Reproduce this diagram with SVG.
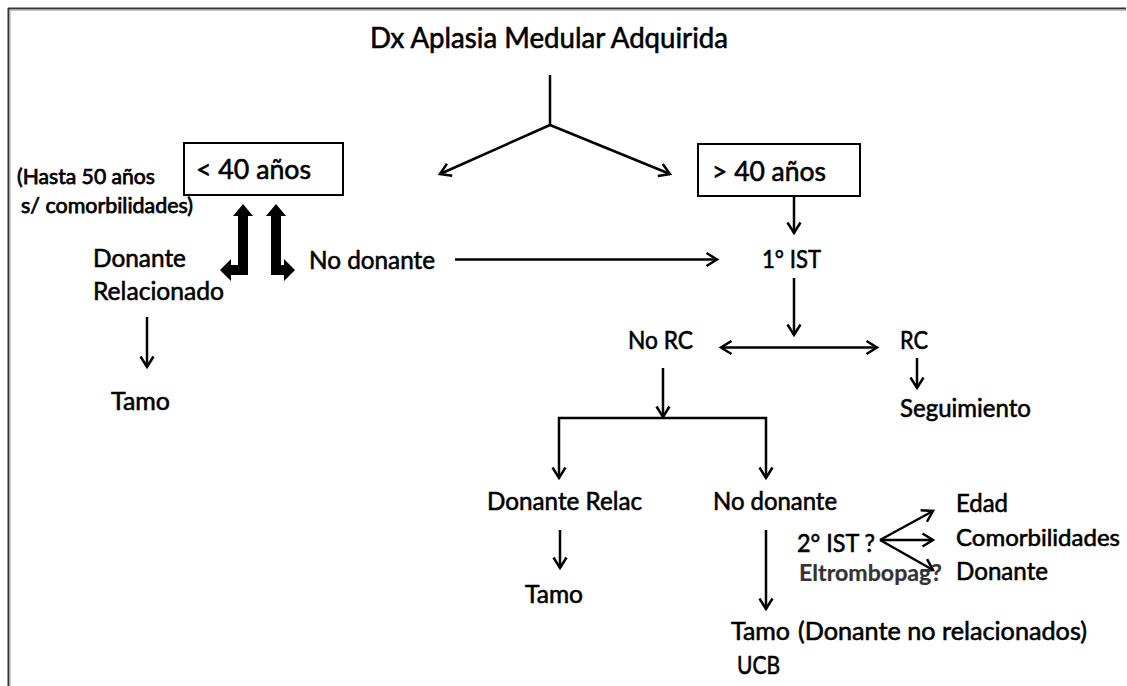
<svg xmlns="http://www.w3.org/2000/svg" width="1127" height="686" viewBox="0 0 1127 686">
  <style>
    text { font-family: Lato, "Open Sans", "Liberation Sans", sans-serif; fill: #000; stroke: #000; stroke-width: 0.6px; }
    .t { font-size: 25.5px; }
    .s { font-size: 23px; }
    .big { font-size: 27px; }
    .title { font-size: 29px; }
    .note { font-size: 21px; stroke-width: 0.75px; }
    .q { font-size: 22.5px; font-weight: bold; fill: #333; stroke: #333; stroke-width: 0.2px; }
    .ln { stroke: #000; stroke-width: 2.5; fill: none; }
    .box { stroke: #000; stroke-width: 2; fill: #fff; }
  </style>
  <defs>
    <marker id="ah" markerUnits="userSpaceOnUse" markerWidth="16" markerHeight="16" refX="12" refY="8" orient="auto">
      <path d="M1.5,1.5 L12,8 L1.5,14.5" fill="none" stroke="#000" stroke-width="2.5" stroke-linejoin="miter"/>
    </marker>
    <marker id="ahs" markerUnits="userSpaceOnUse" markerWidth="16" markerHeight="16" refX="12" refY="8" orient="auto-start-reverse">
      <path d="M1.5,1.5 L12,8 L1.5,14.5" fill="none" stroke="#000" stroke-width="2.5"/>
    </marker>
  </defs>

  <!-- page frame -->
  <g id="frame">
    <rect x="0" y="0" width="1127" height="686" fill="#fff"/>
    <line x1="8" y1="8.5" x2="1126" y2="8.5" stroke="#333" stroke-width="2"/>
    <line x1="10" y1="10.2" x2="1126" y2="10.2" stroke="#aaa" stroke-width="1"/>
    <line x1="8.5" y1="8" x2="8.5" y2="686" stroke="#333" stroke-width="2"/>
    <line x1="10.2" y1="10" x2="10.2" y2="686" stroke="#bbb" stroke-width="1"/>
  </g>

  <!-- connectors -->
  <g id="connectors">
    <line class="ln" x1="550" y1="75" x2="550" y2="125"/>
    <line class="ln" x1="550" y1="125" x2="440" y2="174" marker-end="url(#ah)"/>
    <line class="ln" x1="550" y1="125" x2="670" y2="174" marker-end="url(#ah)"/>
    <line class="ln" x1="794" y1="196" x2="794" y2="233" marker-end="url(#ah)"/>
    <line class="ln" x1="455" y1="259.5" x2="717" y2="259.5" marker-end="url(#ah)"/>
    <line class="ln" x1="794" y1="278" x2="794" y2="335" marker-end="url(#ah)"/>
    <line class="ln" x1="721" y1="347.5" x2="877" y2="347.5" marker-start="url(#ahs)" marker-end="url(#ah)"/>
    <line class="ln" x1="917" y1="358" x2="917" y2="388" marker-end="url(#ah)"/>
    <line class="ln" x1="147" y1="317" x2="147" y2="367" marker-end="url(#ah)"/>
    <line class="ln" x1="663" y1="368" x2="663" y2="417" marker-end="url(#ah)"/>
    <path class="ln" d="M559,478 L559,418 L766,418 L766,478" marker-start="url(#ahs)" marker-end="url(#ah)"/>
    <line class="ln" x1="560" y1="530" x2="560" y2="568" marker-end="url(#ah)"/>
    <line class="ln" x1="766" y1="530" x2="766" y2="609" marker-end="url(#ah)"/>
    <line class="ln" x1="880" y1="540" x2="933" y2="511" marker-end="url(#ah)"/>
    <line class="ln" x1="880" y1="540" x2="933" y2="540" marker-end="url(#ah)"/>
    <line class="ln" x1="880" y1="540" x2="933" y2="570" marker-end="url(#ah)"/>
    <!-- thick bent double arrows below the "< 40 años" box -->
    <polygon fill="#000" points="243,204 253,216 248,216 248,275 231,275 231,281 220,270 231,259 231,265 238,265 238,216 233,216"/>
    <polygon fill="#000" points="276,204 286,216 281,216 281,265 284,265 284,259 295,270 284,281 284,275 271,275 271,216 266,216"/>
  </g>

  <g id="n-title">
    <text class="title" x="370" y="48" textLength="358" lengthAdjust="spacingAndGlyphs">Dx Aplasia Medular Adquirida</text>
  </g>

  <g id="n-menor40">
    <rect class="box" x="184" y="143" width="159" height="52"/>
    <text class="big" x="196" y="179" textLength="115" lengthAdjust="spacingAndGlyphs">&lt; 40 años</text>
  </g>

  <g id="n-hasta50">
    <text class="note" x="17" y="184" textLength="138" lengthAdjust="spacingAndGlyphs">(Hasta 50 años</text>
    <text class="note" x="21" y="213" textLength="172" lengthAdjust="spacingAndGlyphs">s/ comorbilidades)</text>
  </g>

  <g id="n-mayor40">
    <rect class="box" x="698" y="144" width="162" height="52"/>
    <text class="big" x="712" y="181" textLength="114" lengthAdjust="spacingAndGlyphs">&gt; 40 años</text>
  </g>

  <g id="n-donante-rel">
    <text class="t" x="93" y="267" textLength="93" lengthAdjust="spacingAndGlyphs">Donante</text>
    <text class="t" x="93" y="300" textLength="131" lengthAdjust="spacingAndGlyphs">Relacionado</text>
  </g>

  <g id="n-tamo-1">
    <text class="t" x="111" y="410" textLength="59" lengthAdjust="spacingAndGlyphs">Tamo</text>
  </g>

  <g id="n-no-donante-1">
    <text class="t" x="309" y="269" textLength="126" lengthAdjust="spacingAndGlyphs">No donante</text>
  </g>

  <g id="n-ist1">
    <text class="t" x="762" y="268" textLength="59" lengthAdjust="spacingAndGlyphs">1° IST</text>
  </g>

  <g id="n-norc">
    <text class="t" x="628" y="349" textLength="65" lengthAdjust="spacingAndGlyphs">No RC</text>
  </g>

  <g id="n-rc">
    <text class="t" x="900" y="349" textLength="28" lengthAdjust="spacingAndGlyphs">RC</text>
  </g>

  <g id="n-seguimiento">
    <text class="t" x="900" y="417" textLength="131" lengthAdjust="spacingAndGlyphs">Seguimiento</text>
  </g>

  <g id="n-donante-relac">
    <text class="t" x="487" y="510" textLength="155" lengthAdjust="spacingAndGlyphs">Donante Relac</text>
  </g>

  <g id="n-tamo-2">
    <text class="t" x="525" y="603" textLength="58" lengthAdjust="spacingAndGlyphs">Tamo</text>
  </g>

  <g id="n-no-donante-2">
    <text class="t" x="713" y="510" textLength="124" lengthAdjust="spacingAndGlyphs">No donante</text>
  </g>

  <g id="n-ist2">
    <text class="t" x="797" y="552" textLength="78" lengthAdjust="spacingAndGlyphs">2° IST ?</text>
    <text class="q" x="799" y="581" textLength="143" lengthAdjust="spacingAndGlyphs">Eltrombopag?</text>
  </g>

  <g id="n-criterios">
    <text class="t" x="956" y="512" textLength="52" lengthAdjust="spacingAndGlyphs">Edad</text>
    <text class="s" x="956" y="546" textLength="164" lengthAdjust="spacingAndGlyphs">Comorbilidades</text>
    <text class="t" x="956" y="580" textLength="92" lengthAdjust="spacingAndGlyphs">Donante</text>
  </g>

  <g id="n-tamo-ucb">
    <text class="t" x="731" y="640">
      <tspan x="731" textLength="59" lengthAdjust="spacingAndGlyphs">Tamo</tspan>
      <tspan x="798" textLength="289" lengthAdjust="spacingAndGlyphs">(Donante no relacionados)</tspan>
    </text>
    <text class="t" x="737" y="674" textLength="43" lengthAdjust="spacingAndGlyphs">UCB</text>
  </g>
</svg>
